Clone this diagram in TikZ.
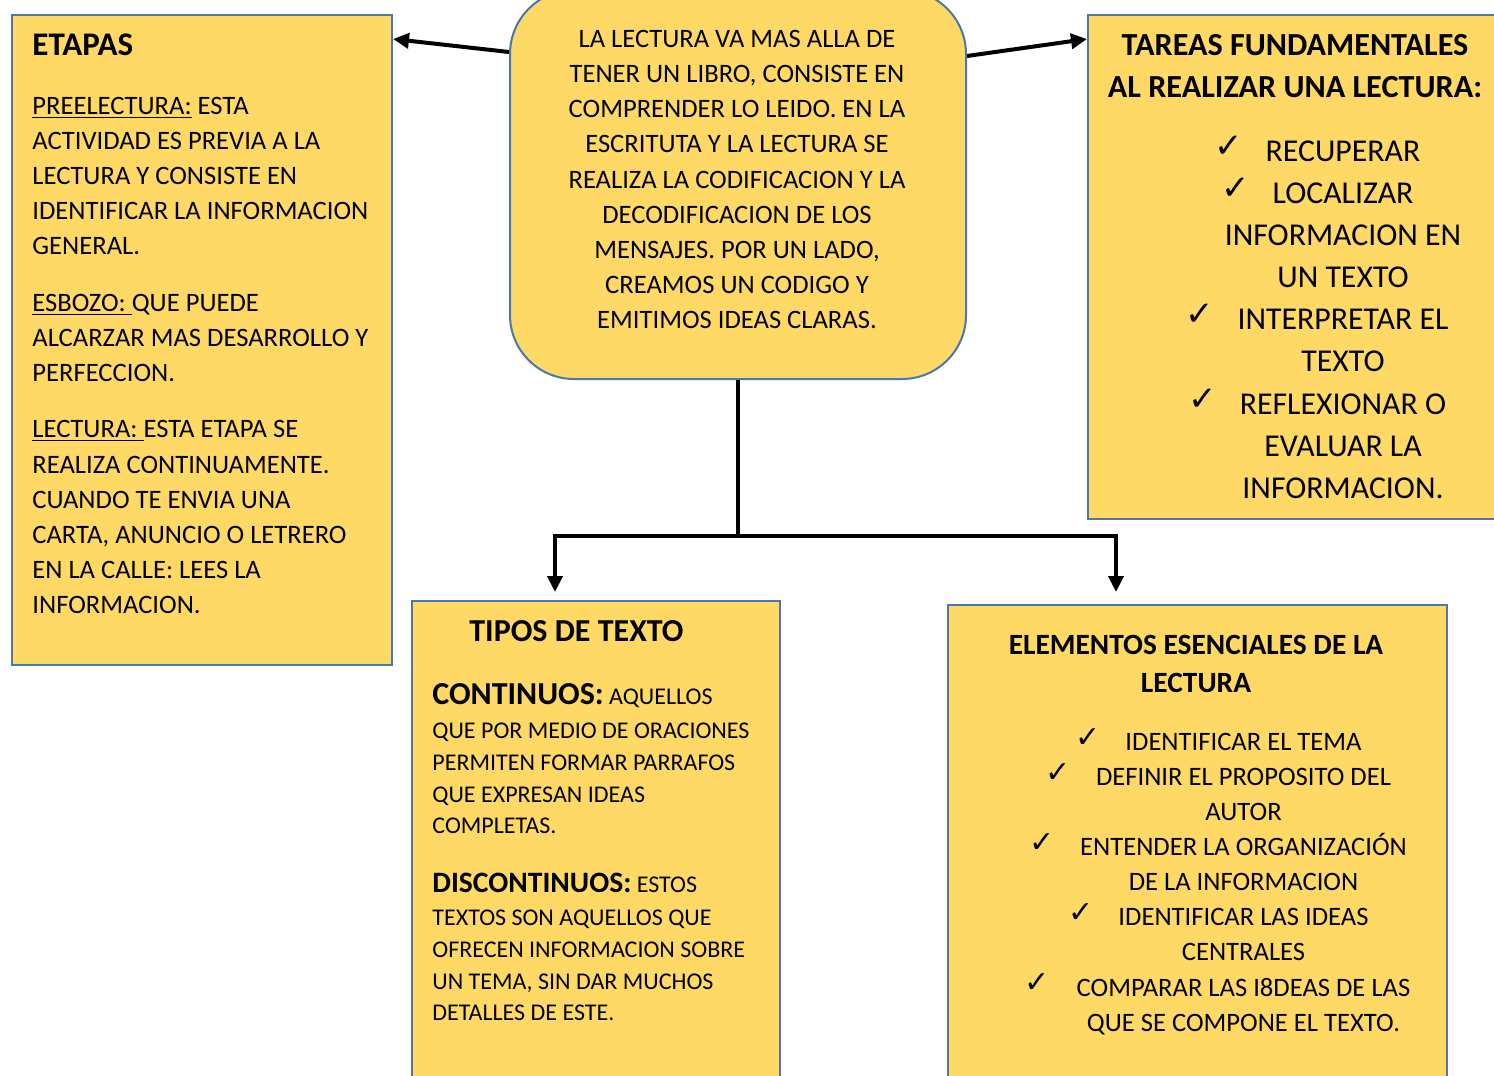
\documentclass[tikz,border=0pt]{standalone}
\usepackage{fontspec}
\setmainfont{Carlito}
\newfontfamily\chkfont{DejaVu Sans}
\usetikzlibrary{arrows.meta,calc}
\definecolor{boxfill}{HTML}{FFD966}
\definecolor{boxline}{HTML}{4A78AC}
\tikzset{
  box/.style={draw=boxline, fill=boxfill, line width=1pt, inner sep=0pt, anchor=north west, rectangle},
  body/.style={inner sep=0pt, font=\fontsize{13.3}{16}\selectfont},
  lbody/.style={body, anchor=base west},
  cbody/.style={body, anchor=base},
  head/.style={inner sep=0pt, font=\bfseries\fontsize{16.5}{19}\selectfont},
  big/.style={inner sep=0pt, anchor=base, font=\fontsize{15.9}{19}\selectfont},
  mid/.style={inner sep=0pt, anchor=base, font=\fontsize{13.3}{16}\selectfont},
  small/.style={inner sep=0pt, anchor=base west, font=\fontsize{12}{14}\selectfont},
  chk/.style={inner sep=0pt, anchor=base east, font=\chkfont\fontsize{17}{19}\selectfont},
  chks/.style={inner sep=0pt, anchor=base east, font=\chkfont\fontsize{15}{17}\selectfont},
  conn/.style={line width=2pt, black},
  arr/.style={conn, -{Triangle[length=8pt,width=7.5pt]}}
}
\begin{document}
\begin{tikzpicture}[x=0.5pt,y=-0.5pt]
\useasboundingbox (0,0) rectangle (1494,1076);
\clip (0,0) rectangle (1494,1076);

% boxes
\node[box, minimum width=190pt, minimum height=325pt] (eta) at (11,14) {};
\node[box, minimum width=228pt, minimum height=194.5pt, rounded corners=32pt] (cen) at (509,-11) {};
\node[box, minimum width=211.5pt, minimum height=252pt] (tar) at (1087,14) {};
\node[box, minimum width=184pt, minimum height=245pt] (tip) at (411,600) {};
\node[box, minimum width=249.5pt, minimum height=243pt] (ele) at (947,604) {};

% ETAPAS
\node[head, anchor=base west] (etaH) at (32,55) {ETAPAS};
\foreach \t/\y in {{\underline{PREELECTURA:} ESTA}/106,
  {ACTIVIDAD ES PREVIA A LA}/141,
  {LECTURA Y CONSISTE EN}/176,
  {IDENTIFICAR LA INFORMACION}/211,
  {GENERAL.}/246,
  {\underline{ESBOZO: }QUE PUEDE}/303,
  {ALCARZAR MAS DESARROLLO Y}/338,
  {PERFECCION.}/373,
  {\underline{LECTURA: }ESTA ETAPA SE}/429,
  {REALIZA CONTINUAMENTE.}/465,
  {CUANDO TE ENVIA UNA}/500,
  {CARTA, ANUNCIO O LETRERO}/535,
  {EN LA CALLE: LEES LA}/570,
  {INFORMACION.}/605}
  \node[lbody] (et\y) at (32,\y+8) {\t};

% centre
\foreach \t/\y in {{LA LECTURA VA MAS ALLA DE}/39,
  {TENER UN LIBRO, CONSISTE EN}/74,
  {COMPRENDER LO LEIDO. EN LA}/109,
  {ESCRITUTA Y LA LECTURA SE}/144,
  {REALIZA LA CODIFICACION Y LA}/180,
  {DECODIFICACION DE LOS}/215,
  {MENSAJES. POR UN LADO,}/250,
  {CREAMOS UN CODIGO Y}/285,
  {EMITIMOS IDEAS CLARAS.}/320}
  \node[cbody] (ce\y) at (737,\y+8) {\t};

% TAREAS
\node[head, anchor=base, font=\bfseries\fontsize{16.1}{19}\selectfont] (tarH1) at (1295,55) {TAREAS FUNDAMENTALES};
\node[head, anchor=base, font=\bfseries\fontsize{16.1}{19}\selectfont] (tarH2) at (1295,97) {AL REALIZAR UNA LECTURA:};
\foreach \t/\y in {{RECUPERAR}/151, {LOCALIZAR}/193, {INFORMACION EN}/235,
  {UN TEXTO}/277, {INTERPRETAR EL}/319, {TEXTO}/361,
  {REFLEXIONAR O}/404, {EVALUAR LA}/446, {INFORMACION.}/488}
  \node[big] (ta\y) at (1343,\y+10) {\t};
\node[chk] (tc1) at (1243,157) {✓};
\node[chk] (tc2) at (1250,199) {✓};
\node[chk] (tc3) at (1214,325) {✓};
\node[chk] (tc4) at (1217,410) {✓};

% TIPOS
\node[head, anchor=base west, font=\bfseries\fontsize{16}{19}\selectfont] (tipH) at (469,641) {TIPOS DE TEXTO};
\node[small] (ti1) at (432,704) {\textbf{\fontsize{16}{19}\selectfont CONTINUOS:} AQUELLOS};
\foreach \t/\y in {{QUE POR MEDIO DE ORACIONES}/731,
  {PERMITEN FORMAR PARRAFOS}/763,
  {QUE EXPRESAN IDEAS}/795,
  {COMPLETAS.}/826}
  \node[small] (tia\y) at (432,\y+7) {\t};
\node[small] (ti2) at (432,892) {\textbf{\fontsize{14.8}{17}\selectfont DISCONTINUOS:} ESTOS};
\foreach \t/\y in {{TEXTOS SON AQUELLOS QUE}/918,
  {OFRECEN INFORMACION SOBRE}/950,
  {UN TEMA, SIN DAR MUCHOS}/982,
  {DETALLES DE ESTE.}/1013}
  \node[small] (tib\y) at (432,\y+7) {\t};

% ELEMENTOS
\node[head, anchor=base, font=\bfseries\fontsize{14.7}{17}\selectfont] (eleH1) at (1196,654) {ELEMENTOS ESENCIALES DE LA};
\node[head, anchor=base, font=\bfseries\fontsize{14.7}{17}\selectfont] (eleH2) at (1196,692) {LECTURA};
\foreach \t/\y in {{IDENTIFICAR EL TEMA}/742,
  {DEFINIR EL PROPOSITO DEL}/777,
  {AUTOR}/812,
  {ENTENDER LA ORGANIZACIÓN}/847,
  {DE LA INFORMACION}/882,
  {IDENTIFICAR LAS IDEAS}/917,
  {CENTRALES}/952,
  {COMPARAR LAS I8DEAS DE LAS}/988,
  {QUE SE COMPONE EL TEXTO.}/1023}
  \node[mid] (el\y) at (1243.5,\y+8.3) {\t};
\node[chks] (ec1) at (1101,747) {✓};
\node[chks] (ec2) at (1071,782) {✓};
\node[chks] (ec3) at (1055,852) {✓};
\node[chks] (ec4) at (1094,922) {✓};
\node[chks] (ec5) at (1050,992) {✓};

% connectors
\draw[arr] ([shift={(0,63)}]cen.north west) -- ([shift={(0,25)}]eta.north east);
\draw[arr] ([shift={(0,67)}]cen.north east) -- ([shift={(0,25)}]tar.north west);
\coordinate (jn) at ([shift={(0,156)}]cen.south);
\draw[conn] (cen.south) -- (jn);
\draw[arr] (jn) -| ([shift={(144,-8)}]tip.north west);
\draw[arr] (jn) -| ([shift={(169,-12)}]ele.north west);
\end{tikzpicture}
\end{document}
